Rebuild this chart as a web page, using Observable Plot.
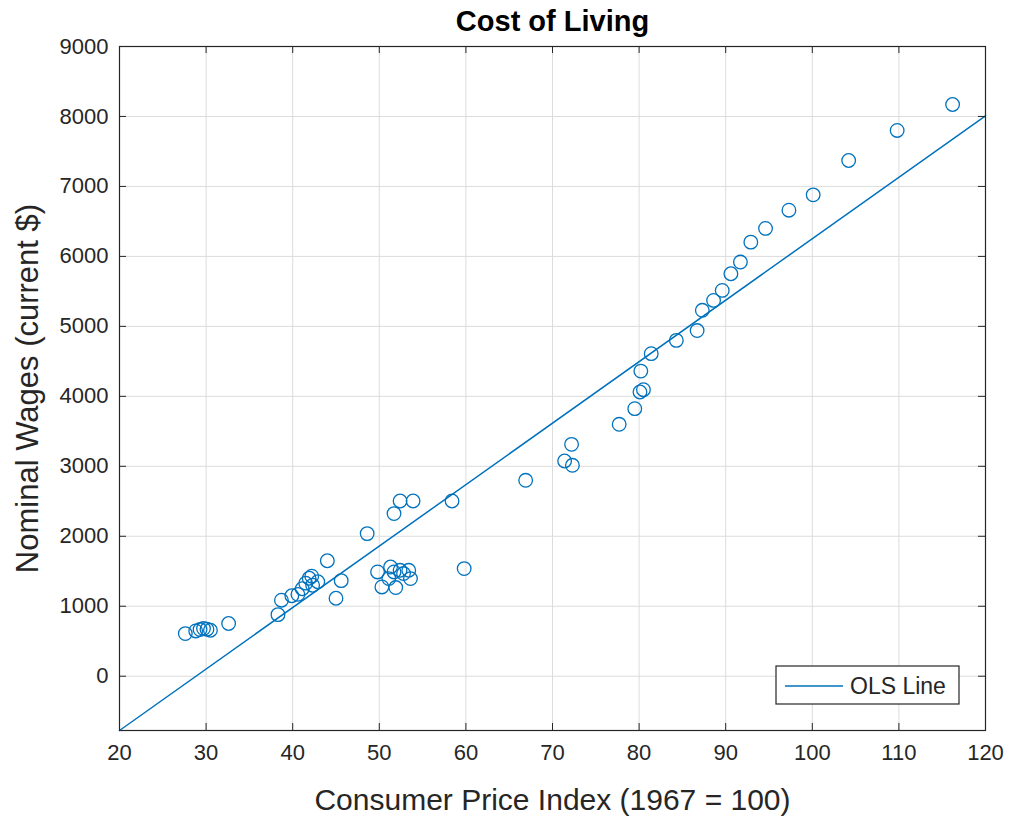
<!DOCTYPE html>
<html>
<head>
<meta charset="utf-8">
<script src="https://cdn.jsdelivr.net/npm/d3@7"></script>
<script src="https://cdn.jsdelivr.net/npm/@observablehq/plot@0.6"></script>
<style>
  html, body { margin: 0; padding: 0; background: #fff; }
  #chart { width: 1011px; height: 818px; }
</style>
</head>
<body>
<div id="chart"></div>
<script>
const titleText = "Cost of Living";
const xLabel = "Consumer Price Index (1967 = 100)";
const yLabel = "Nominal Wages (current $)";
const legendLabel = "OLS Line";

const cpi = [27.6, 28.8, 29.3, 29.7, 30.1, 30.5, 32.6, 38.3, 38.7, 39.9, 40.6, 41.1, 41.5, 41.9, 42.2, 42.3, 42.9,
  44.0, 45.0, 45.6, 48.6, 49.8, 50.3, 51.1, 51.3, 51.7, 51.9, 52.4, 52.8, 53.4, 53.6, 51.7, 52.4, 53.9, 58.4, 59.8,
  66.9, 71.4, 72.2, 72.3, 77.7, 79.5, 80.1, 80.5, 80.2, 81.4, 84.3, 86.7, 87.3, 88.6, 89.6, 90.6, 91.7, 92.9, 94.6,
  97.3, 100.1, 104.2, 109.8, 116.2];
const wages = [609, 647, 667, 681, 671, 657, 753, 880, 1086, 1150, 1170, 1250, 1330, 1400, 1430, 1300, 1350,
  1650, 1114, 1366, 2038, 1490, 1276, 1395, 1561, 1490, 1267, 1514, 1467, 1514, 1395, 2324, 2504, 2504, 2504, 1538,
  2800, 3076, 3314, 3014, 3600, 3824, 4062, 4095, 4361, 4610, 4800, 4940, 5230, 5371, 5514, 5752, 5919, 6204, 6400,
  6660, 6880, 7371, 7800, 8171];

const olsX = [20, 120];
const olsY = [-776, 8010];

const xTicks = [20, 30, 40, 50, 60, 70, 80, 90, 100, 110, 120];
const yTicks = [0, 1000, 2000, 3000, 4000, 5000, 6000, 7000, 8000, 9000];
const xDomain = [20, 120];
const yDomain = [-776, 9000];

const points = cpi.map((c, i) => ({cpi: c, wage: wages[i]}));
const ols = olsX.map((x, i) => ({x, y: olsY[i]}));

const W = 1011, H = 818;
const mt = 46, mb = 88, ml = 119, mr = 26;
const fh = H - mt - mb, fw = W - ml - mr;
const blue = "#0072BD";
const dark = "#262626";
const font = "'Liberation Sans', Arial, Helvetica, sans-serif";

const plot = Plot.plot({
  width: W, height: H,
  marginTop: mt, marginBottom: mb, marginLeft: ml, marginRight: mr,
  style: {fontFamily: font, color: dark, background: "#fff"},
  x: {domain: xDomain},
  y: {domain: yDomain},
  marks: [
    Plot.gridX(xTicks, {stroke: "#dcdcdc", strokeOpacity: 1}),
    Plot.gridY(yTicks, {stroke: "#dcdcdc", strokeOpacity: 1}),
    Plot.line(ols, {x: "x", y: "y", stroke: blue, strokeWidth: 1.5}),
    Plot.dot(points, {x: "cpi", y: "wage", r: 6.8, stroke: blue, strokeWidth: 1.3, fill: "none"}),
    Plot.tickX(xTicks, {x: d => d, insetTop: fh - 7, stroke: dark}),
    Plot.tickX(xTicks, {x: d => d, insetBottom: fh - 7, stroke: dark}),
    Plot.tickY(yTicks, {y: d => d, insetRight: fw - 7, stroke: dark}),
    Plot.tickY(yTicks, {y: d => d, insetLeft: fw - 7, stroke: dark}),
    Plot.frame({stroke: dark, strokeWidth: 1.2}),
    Plot.axisX(xTicks, {tickSize: 0, tickPadding: 14, fontSize: 22, fill: dark, label: null, tickFormat: d3.format("d")}),
    Plot.axisY(yTicks, {tickSize: 0, tickPadding: 11, fontSize: 22, fill: dark, label: null, tickFormat: d3.format("d")}),
    Plot.text([xLabel], {frameAnchor: "bottom", lineAnchor: "middle", dy: 70, fontSize: 30, fill: dark}),
    Plot.text([yLabel], {frameAnchor: "left", textAnchor: "middle", lineAnchor: "middle", dx: -91, rotate: -90, fontSize: 31, fill: dark}),
    Plot.text([titleText], {frameAnchor: "top", lineAnchor: "middle", dy: -25, fontSize: 29, fontWeight: "bold", fill: "#000"})
  ]
});

// legend inside the plot, bottom-right
const svg = d3.select(plot);
const lg = svg.append("g").attr("font-family", font);
lg.append("rect").attr("x", 776).attr("y", 666).attr("width", 183).attr("height", 38)
  .attr("fill", "#fff").attr("stroke", dark).attr("stroke-width", 1.2);
lg.append("line").attr("x1", 785).attr("x2", 843).attr("y1", 686).attr("y2", 686)
  .attr("stroke", blue).attr("stroke-width", 1.5);
lg.append("text").attr("x", 850).attr("y", 686).attr("dy", "0.35em").attr("text-anchor", "start")
  .attr("font-size", 23).attr("fill", dark).text(legendLabel);

document.getElementById("chart").appendChild(plot);
</script>
</body>
</html>
